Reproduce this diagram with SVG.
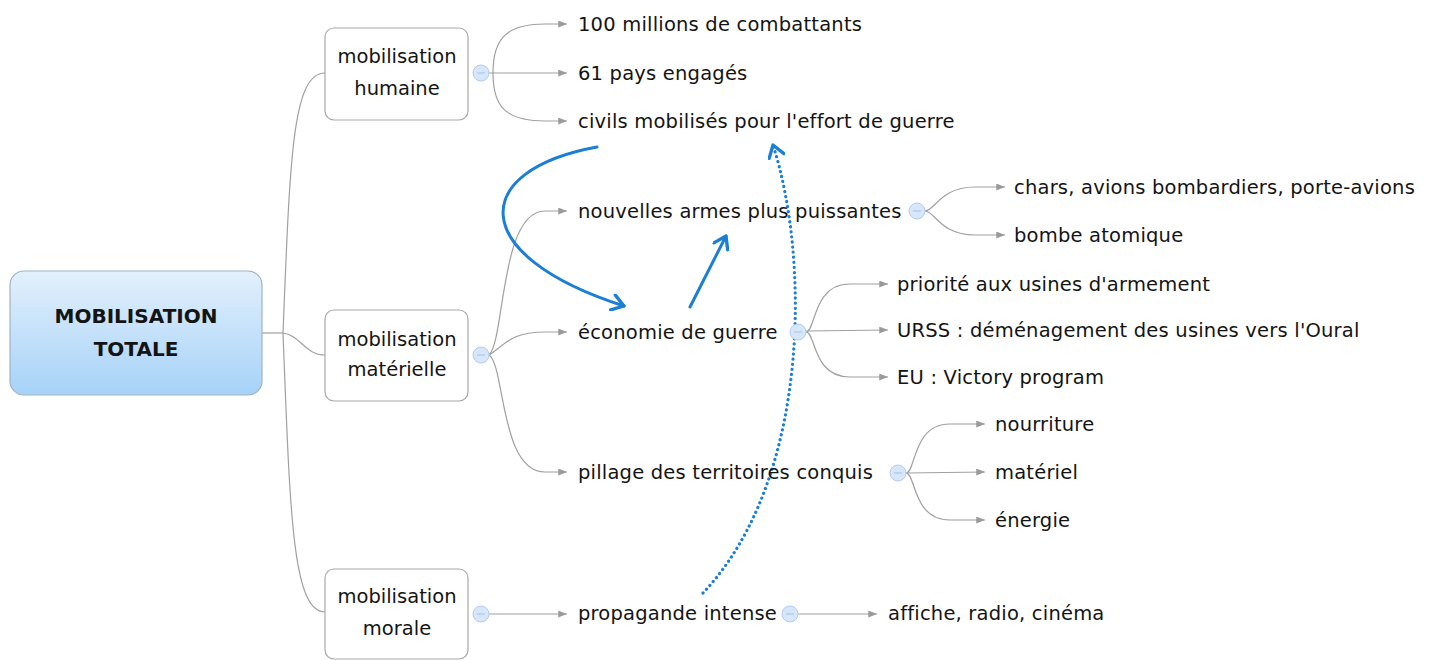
<svg xmlns="http://www.w3.org/2000/svg" width="1437" height="660" viewBox="0 0 1437 660">
<defs>
<linearGradient id="rootGrad" x1="0" y1="0" x2="0" y2="1">
<stop offset="0" stop-color="#e3f0fc"/>
<stop offset="1" stop-color="#a6d2f8"/>
</linearGradient>
<marker id="ga" viewBox="0 0 10 8" refX="10" refY="4" markerWidth="9" markerHeight="7" markerUnits="userSpaceOnUse" orient="auto">
<path d="M0,0 L10,4 L0,8 Z" fill="#9a9a9a"/>
</marker>
<marker id="ba" viewBox="0 0 14 14" refX="11" refY="7" markerWidth="18" markerHeight="18" markerUnits="userSpaceOnUse" orient="auto">
<path d="M2,1 L11,7 L2,13" fill="none" stroke="#1b7fd5" stroke-width="2.6" stroke-linecap="round" stroke-linejoin="round"/>
</marker>
</defs>
<style>
.t{font-family:"DejaVu Sans","Liberation Sans",sans-serif;font-size:19.5px;letter-spacing:0.2px;fill:#141414}
.bt{font-family:"DejaVu Sans","Liberation Sans",sans-serif;font-size:19.5px;fill:#141414;text-anchor:middle}
.rt{font-family:"DejaVu Sans","Liberation Sans",sans-serif;font-size:20px;font-weight:bold;fill:#141414;text-anchor:middle}
.box{fill:#ffffff;stroke:#a8a8a8;stroke-width:1.2}
.c{fill:none;stroke:#a0a0a0;stroke-width:1.2}
.ca{fill:none;stroke:#a0a0a0;stroke-width:1.2;marker-end:url(#ga)}
.tg{fill:#d6e6fb;stroke:#b4ccef;stroke-width:1}
.tgl{stroke:#a9bfe0;stroke-width:1}
.bl{fill:none;stroke:#1b7fd5;stroke-width:3;stroke-linecap:round;marker-end:url(#ba)}
.bd{fill:none;stroke:#1b7fd5;stroke-width:3.2;stroke-dasharray:0.1 5;stroke-linecap:round;marker-end:url(#ba)}
</style>

<g id="connectors">
<path class="c" d="M262,333 L283,333"/>
<path class="c" d="M283,333 C290,160 292,73 325,73"/>
<path class="c" d="M283,333 C300,335 305,355 325,355"/>
<path class="c" d="M283,333 C290,510 292,612 325,612"/>
<path class="ca" d="M493,73 C493,40 505,24 545,24 L567,24"/>
<path class="ca" d="M489,73 L567,73"/>
<path class="ca" d="M493,73 C493,106 505,121 545,121 L567,121"/>
<path class="ca" d="M489,355 C505,340 500,211 545,211 L567,211"/>
<path class="ca" d="M489,355 C505,345 510,332 545,332 L567,332"/>
<path class="ca" d="M489,355 C505,365 500,472 545,472 L567,472"/>
<path class="ca" d="M489,614 L567,614"/>
<path class="ca" d="M925,211 C935,211 940,187 975,187 L1005,187"/>
<path class="ca" d="M925,211 C935,211 940,235 975,235 L1005,235"/>
<path class="ca" d="M806,332 C816,332 812,284 850,284 L888,284"/>
<path class="ca" d="M806,331 L888,330"/>
<path class="ca" d="M806,332 C816,332 812,377 850,377 L888,377"/>
<path class="ca" d="M906,473 C916,473 912,424 950,424 L985,424"/>
<path class="ca" d="M906,473 L985,472"/>
<path class="ca" d="M906,473 C916,473 912,520 950,520 L985,520"/>
<path class="ca" d="M798,614 L877,614"/>
<path class="bl" d="M597,147 C470,170 465,255 624,306"/>
<path class="bl" d="M690,307 L726,236"/>
<path class="bd" d="M703,593 C810,480 810,260 773,145"/>
</g>

<g id="root">
<rect x="10" y="271" width="252" height="124" rx="14" fill="url(#rootGrad)" stroke="#9fb3c6" stroke-width="1.2"/>
<text class="rt" x="136" y="323">MOBILISATION</text>
<text class="rt" x="136" y="356">TOTALE</text>
</g>

<g id="n-humaine">
<rect class="box" x="325" y="28" width="143" height="92" rx="9"/>
<text class="bt" x="397" y="63">mobilisation</text>
<text class="bt" x="397" y="95">humaine</text>
<circle class="tg" cx="481" cy="73" r="8"/><line class="tgl" x1="477" y1="73" x2="485" y2="73"/>
</g>
<g id="n-materielle">
<rect class="box" x="325" y="310" width="143" height="91" rx="9"/>
<text class="bt" x="397" y="346">mobilisation</text>
<text class="bt" x="397" y="376">matérielle</text>
<circle class="tg" cx="481" cy="355" r="8"/><line class="tgl" x1="477" y1="355" x2="485" y2="355"/>
</g>
<g id="n-morale">
<rect class="box" x="325" y="569" width="143" height="90" rx="9"/>
<text class="bt" x="397" y="603">mobilisation</text>
<text class="bt" x="397" y="635">morale</text>
<circle class="tg" cx="481" cy="614" r="8"/><line class="tgl" x1="477" y1="614" x2="485" y2="614"/>
</g>

<g id="n-combattants"><text class="t" x="578" y="31">100 millions de combattants</text></g>
<g id="n-pays"><text class="t" x="578" y="80">61 pays engagés</text></g>
<g id="n-civils"><text class="t" x="578" y="128">civils mobilisés pour l'effort de guerre</text></g>

<g id="n-armes">
<text class="t" x="578" y="218">nouvelles armes plus puissantes</text>
<circle class="tg" cx="917" cy="211" r="8"/><line class="tgl" x1="913" y1="211" x2="921" y2="211"/>
</g>
<g id="n-chars"><text class="t" x="1014" y="194">chars, avions bombardiers, porte-avions</text></g>
<g id="n-bombe"><text class="t" x="1014" y="242">bombe atomique</text></g>

<g id="n-economie">
<text class="t" x="578" y="339">économie de guerre</text>
<circle class="tg" cx="798" cy="332" r="8"/><line class="tgl" x1="794" y1="332" x2="802" y2="332"/>
</g>
<g id="n-priorite"><text class="t" x="897" y="291">priorité aux usines d'armement</text></g>
<g id="n-urss"><text class="t" x="897" y="337">URSS : déménagement des usines vers l'Oural</text></g>
<g id="n-eu"><text class="t" x="897" y="384">EU : Victory program</text></g>

<g id="n-pillage">
<text class="t" x="578" y="479">pillage des territoires conquis</text>
<circle class="tg" cx="898" cy="473" r="8"/><line class="tgl" x1="894" y1="473" x2="902" y2="473"/>
</g>
<g id="n-nourriture"><text class="t" x="995" y="431">nourriture</text></g>
<g id="n-materiel"><text class="t" x="995" y="479">matériel</text></g>
<g id="n-energie"><text class="t" x="995" y="527">énergie</text></g>

<g id="n-propagande">
<text class="t" x="578" y="620">propagande intense</text>
<circle class="tg" cx="790" cy="614" r="8"/><line class="tgl" x1="786" y1="614" x2="794" y2="614"/>
</g>
<g id="n-affiche"><text class="t" x="888" y="620">affiche, radio, cinéma</text></g>
</svg>
